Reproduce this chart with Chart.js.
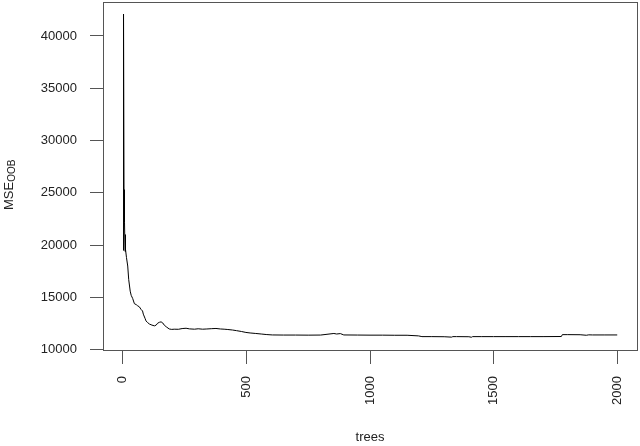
<!DOCTYPE html>
<html>
<head>
<meta charset="utf-8">
<script src="https://cdn.jsdelivr.net/npm/chart.js@4/dist/chart.umd.min.js"></script>
<style>
html,body{margin:0;padding:0;background:#fff;}
#c{display:block;}
</style>
</head>
<body>
<canvas id="c" width="640" height="446"></canvas>
<script>
// ---- data ----
const trees = [1,2,3,4,5,6,7,8,9,10,12,15,20,24,30,34,40,47,55,60,67,74,80,83,90,94,100,108,118,128,135,141,148,155,162,168,178,188,198,208,225,240,256,270,290,305,323,340,360,377,395,410,425,444,460,480,498,515,538,560,580,605,650,699,750,800,854,865,880,894,950,1000,1050,1100,1150,1196,1210,1250,1300,1330,1335,1350,1400,1410,1415,1450,1500,1550,1600,1650,1700,1774,1778,1800,1850,1875,1885,1900,1950,2000];
const mse = [19500,30800,24200,42100,25300,22300,24000,22200,19400,21000,19600,18800,18000,16700,15600,15200,14900,14400,14300,14200,14100,13850,13700,13400,13000,12750,12600,12450,12350,12280,12350,12530,12620,12660,12550,12340,12150,11980,11940,11960,11950,12020,12050,11990,11960,12000,11960,11980,12010,12030,11980,11960,11930,11880,11820,11740,11650,11600,11550,11500,11450,11410,11400,11400,11390,11400,11550,11500,11540,11410,11400,11390,11390,11380,11380,11320,11250,11250,11240,11200,11250,11250,11240,11190,11250,11250,11250,11250,11250,11250,11250,11260,11440,11440,11430,11380,11420,11410,11410,11410];
const xTicks = [0,500,1000,1500,2000];
const yTicks = [10000,15000,20000,25000,30000,35000,40000];
const xTitle = 'trees';
const yTitleMain = 'MSE';
const yTitleSub = 'OOB';

const points = trees.map((t,i)=>({x:t,y:mse[i]}));
const FONT = '"Liberation Sans", Arial, sans-serif';

function zeroPad(s){ s.paddingTop = 0; s.paddingBottom = 0; s.paddingLeft = 0; s.paddingRight = 0; }

const boxPlugin = {
  id:'box',
  afterDraw(chart){
    const a = chart.chartArea, ctx = chart.ctx;
    ctx.save();
    ctx.strokeStyle = '#555';
    ctx.lineWidth = 1;
    ctx.strokeRect(Math.round(a.left)+0.5, Math.round(a.top)+0.5, Math.round(a.right-a.left), Math.round(a.bottom-a.top));
    // y axis title with subscript
    ctx.fillStyle = '#222';
    ctx.translate(12.5, 210);
    ctx.rotate(-Math.PI/2);
    ctx.textAlign = 'left';
    ctx.textBaseline = 'alphabetic';
    ctx.font = '13px ' + FONT;
    ctx.fillText(yTitleMain, 0, 0);
    const w = ctx.measureText(yTitleMain).width;
    ctx.font = '10px ' + FONT;
    ctx.fillText(yTitleSub, w, 2);
    ctx.restore();
  }
};

new Chart(document.getElementById('c'), {
  type:'line',
  data:{datasets:[{
    data:points,
    borderColor:'#000',
    borderWidth:1,
    pointRadius:0,
    tension:0,
    fill:false
  }]},
  options:{
    responsive:false,
    animation:false,
    events:[],
    parsing:false,
    layout:{padding:{top:2,right:3,left:0,bottom:0}},
    plugins:{legend:{display:false},tooltip:{enabled:false}},
    scales:{
      x:{
        type:'linear',
        min:-80, max:2080,
        afterBuildTicks(s){ s.ticks = xTicks.map(v=>({value:v})); },
        afterFit(s){ s.height = 96; zeroPad(s); },
        grid:{display:true, drawOnChartArea:false, drawTicks:true, tickLength:14, color:'#555', lineWidth:1},
        border:{display:false},
        ticks:{maxRotation:90, minRotation:90, padding:12, color:'#222', font:{family:FONT, size:13}, autoSkip:false,
               callback:(v)=>String(v)},
        title:{display:true, text:xTitle, color:'#222', font:{family:FONT, size:13}, padding:{top:0,bottom:1}}
      },
      y:{
        type:'linear',
        min:9970, max:43250,
        afterBuildTicks(s){ s.ticks = yTicks.map(v=>({value:v})); },
        afterFit(s){ s.width = 103; zeroPad(s); },
        grid:{display:true, drawOnChartArea:false, drawTicks:true, tickLength:13, color:'#555', lineWidth:1},
        border:{display:false},
        ticks:{padding:13, color:'#222', font:{family:FONT, size:13}, autoSkip:false,
               callback:(v)=>String(v)}
      }
    }
  },
  plugins:[boxPlugin]
});
</script>
</body>
</html>
